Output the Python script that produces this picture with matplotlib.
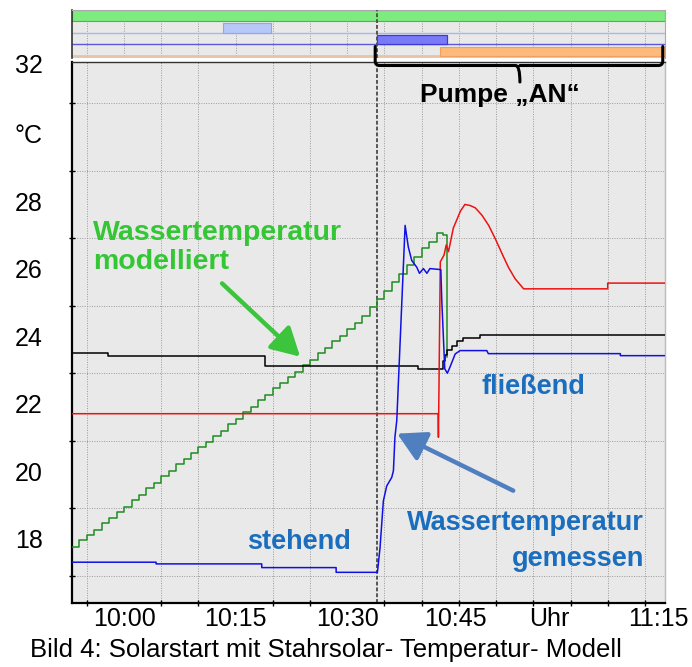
import matplotlib
matplotlib.use("Agg")
import matplotlib.pyplot as plt
from matplotlib.patches import Rectangle, FancyArrowPatch, PathPatch
from matplotlib.path import Path
from matplotlib.transforms import ScaledTranslation, blended_transform_factory

plt.rcParams['font.family'] = ['Liberation Sans', 'DejaVu Sans']

# ---- data (time in minutes after 10:00, temperature in °C) ----
x_range = (-7.0, 72.7)
y_range = (16.2, 32.23)

green_t = [-7, -6, -5, -4, -3, -2, -1, 0, 1, 2, 3, 4, 5, 6, 7, 8, 9, 10, 11, 12,
           13, 14, 15, 16, 17, 18, 19, 20, 21, 22, 23, 24, 25, 26, 27, 28, 29, 30,
           31, 32, 33, 34, 35, 36, 37, 38, 39, 40, 41, 42, 42.9, 43.45]
green_v = [17.85, 18.05, 18.20, 18.35, 18.55, 18.70, 18.90, 19.05, 19.25, 19.40,
           19.60, 19.75, 19.95, 20.10, 20.30, 20.45, 20.65, 20.80, 20.95, 21.15,
           21.30, 21.50, 21.65, 21.85, 22.00, 22.20, 22.35, 22.55, 22.70, 22.90,
           23.05, 23.25, 23.40, 23.60, 23.75, 23.95, 24.10, 24.30, 24.50, 24.70,
           24.95, 25.20, 25.45, 25.70, 25.95, 26.20, 26.45, 26.70, 26.90, 27.15,
           27.10, 23.47]

black_t = [-7, -2.2, 19.0, 39.5, 42.9, 43.1, 43.45, 44.05, 44.7, 45.6, 47.85, 72.7]
black_v = [23.6, 23.5, 23.22, 23.12, 23.35, 23.55, 23.7, 23.82, 23.95, 24.05, 24.12, 24.12]

red_t = [-7, 42.2, 42.25, 42.5, 43.0, 43.3, 43.6, 44.25, 45.2, 45.8, 46.5, 47.2,
         48.1, 49.0, 49.9, 50.8, 51.65, 52.55, 53.7, 65.0, 65.0, 72.7]
red_v = [21.8, 21.8, 21.1, 26.3, 26.5, 26.8, 26.6, 27.3, 27.8, 28.0, 27.97, 27.9,
         27.68, 27.38, 26.98, 26.54, 26.14, 25.8, 25.5, 25.5, 25.67, 25.67]

blue_t = [-7, 4.3, 4.3, 18.5, 18.5, 28.5, 28.5, 34.05, 34.4, 34.85, 35.3, 35.97,
          36.2, 36.4, 36.65, 37.77, 38.2, 38.66, 39.34, 39.7, 40.23, 40.7, 41.1,
          42.57, 42.7, 43.1, 43.45, 43.8, 44.5, 45.16, 48.75, 48.95, 66.7, 66.7, 72.7]
blue_v = [17.40, 17.40, 17.35, 17.35, 17.24, 17.24, 17.10, 17.10, 17.83, 19.22,
          19.66, 19.91, 20.11, 21.1, 21.6, 27.38, 26.74, 26.34, 26.14, 25.96, 26.1,
          25.96, 26.1, 26.07, 25.15, 23.13, 23.0, 23.18, 23.57, 23.67, 23.67, 23.58,
          23.58, 23.52, 23.52]

# state rows on top (start, end) in minutes
row_green = (-7.0, 72.7)
row_lightblue = (13.3, 19.76)
row_blue = (34.0, 43.4)
row_orange = (42.5, 72.7)
pump_on = (33.75, 72.4)
marker_time = 34.0

x_tick_pos = [0, 15, 30, 44.5, 57.1, 71.8]
x_tick_lab = ['10:00', '10:15', '10:30', '10:45', 'Uhr', '11:15']
y_tick_pos = [18, 20, 22, 24, 26, 28, 30, 32]
y_tick_lab = ['18', '20', '22', '24', '26', '28', '°C', '32']

W, H = 692, 667
fig = plt.figure(figsize=(W / 100, H / 100), dpi=100)
fig.patch.set_facecolor('white')

bg = '#e9e9e9'
gridc = '#9a9a9a'

ax = fig.add_axes([72 / W, 1 - 602.7 / H, (665 - 72) / W, (602.7 - 61.7) / H])
top = fig.add_axes([72 / W, 1 - 57.5 / H, (665 - 72) / W, (57.5 - 10) / H])

for a in (ax, top):
    a.set_facecolor(bg)
    a.set_xlim(*x_range)

ax.set_ylim(*y_range)

# grid
ax.set_xticks(list(range(-5, 71, 5)), minor=True)
ax.set_yticks(list(range(17, 33)), minor=True)
ax.grid(which='minor', color=gridc, ls=(0, (1, 1.5)), lw=0.7)
ax.set_xticks(x_tick_pos, x_tick_lab)
ax.set_yticks(y_tick_pos, y_tick_lab)
ax.tick_params(which='major', length=0, labelsize=18, colors='black')
ax.tick_params(axis='y', which='major', pad=21)
ax.tick_params(axis='x', which='major', pad=3)
ax.tick_params(which='minor', length=5, direction='inout', width=1.0, color='black')
for lab in ax.get_yticklabels():
    dy = 6 if lab.get_text() == '32' else 3
    lab.set_transform(lab.get_transform() + ScaledTranslation(0, dy / 100, fig.dpi_scale_trans))

for s in ('left', 'bottom'):
    ax.spines[s].set_linewidth(1.6)
    ax.spines[s].set_color('black')
ax.spines['top'].set_linewidth(1.0)
ax.spines['top'].set_color('#333333')
ax.spines['right'].set_color('#bbbbbb')
ax.spines['right'].set_linewidth(1.0)

# lines
ax.step(green_t, green_v, where='post', color='#1f8c1f', lw=1.1, zorder=3)
ax.step(black_t, black_v, where='post', color='black', lw=1.1, zorder=3)
ax.plot(red_t, red_v, color='#ee1111', lw=1.1, zorder=4)
ax.plot(blue_t, blue_v, color='#1010e6', lw=1.1, zorder=5)

ax.axvline(marker_time, color='#555555', ls=(0, (2, 1)), lw=1.4, zorder=2)

# top strip
top.set_ylim(4.05, 0)
top.set_xticks(list(range(-5, 71, 5)))
top.set_yticks([])
top.tick_params(length=0, labelbottom=False)
top.grid(axis='x', color=gridc, ls=(0, (1, 1.5)), lw=0.7)
top.spines['bottom'].set_visible(False)
top.spines['top'].set_color('#aaaaaa')
top.spines['right'].set_color('#aaaaaa')
top.spines['left'].set_color('#333333')
top.spines['left'].set_linewidth(1.2)

top.add_patch(Rectangle((row_green[0], 0), row_green[1] - row_green[0], 0.92,
                        facecolor='#7deb7d', edgecolor='#55b055', lw=0.8, zorder=2))
top.axhline(1.93, color='#a8b6f2', lw=1.0, zorder=2)
top.add_patch(Rectangle((row_lightblue[0], 1.10), row_lightblue[1] - row_lightblue[0], 0.83,
                        facecolor='#b6c7f8', edgecolor='#8ea6ef', lw=0.8, zorder=3))
top.axhline(2.93, color='#5a5ad6', lw=1.0, zorder=2)
top.add_patch(Rectangle((row_blue[0], 2.15), row_blue[1] - row_blue[0], 0.78,
                        facecolor='#7a7af8', edgecolor='#3c3cd2', lw=0.9, zorder=3))
top.axhline(3.96, color='#e8c4a6', lw=2.0, zorder=2)
top.add_patch(Rectangle((row_orange[0], 3.16), row_orange[1] - row_orange[0], 0.80,
                        facecolor='#fdba7a', edgecolor='#f0a060', lw=0.8, zorder=3))
top.axvline(marker_time, color='#555555', ls=(0, (2, 1)), lw=1.4, zorder=4)

# bracket "Pumpe AN"
bt = blended_transform_factory(ax.transData, fig.transFigure)
def fy(py):
    return 1 - py / H
xl, xr = pump_on
xc = 53.2
yt, yb, ytip = fy(46.5), fy(65.5), fy(82)
verts = [(xl, yt), (xl, fy(61)), (xl, yb), (xl + 0.6, yb),
         (xc - 0.6, yb), (xc, yb), (xc, ytip),
         (xc, yb), (xc + 0.6, yb),
         (xr - 0.6, yb), (xr, yb), (xr, fy(61)), (xr, yt)]
codes = [Path.MOVETO, Path.LINETO, Path.CURVE3, Path.CURVE3,
         Path.LINETO, Path.CURVE3, Path.CURVE3,
         Path.MOVETO, Path.LINETO,
         Path.LINETO, Path.CURVE3, Path.CURVE3, Path.LINETO]
bracket = PathPatch(Path(verts, codes), transform=bt, fill=False, lw=2.2,
                    edgecolor='black', clip_on=False, capstyle='round', joinstyle='round')
fig.add_artist(bracket)
fig.text(500 / W, fy(95), 'Pumpe \u201eAN\u201c', ha='center', va='center',
         fontsize=19, fontweight='bold', color='black')

# annotations
green_txt = '#35c635'
blue_txt = '#1a6ebd'
ax.text(-4.17, 26.10, 'Wassertemperatur\nmodelliert', color=green_txt, fontsize=20.5,
        fontweight='bold', ha='left', va='baseline', multialignment='left',
        linespacing=1.15, zorder=6)
ax.add_patch(FancyArrowPatch((13.17, 25.66), (23.66, 23.49), arrowstyle='-|>,head_length=0.9,head_width=0.5',
                             mutation_scale=19, color='#3cc43c', lw=3.2, zorder=6, shrinkA=0, shrinkB=0))
ax.text(47.98, 22.39, 'fließend', color=blue_txt, fontsize=19.5,
        fontweight='bold', ha='left', va='baseline', zorder=6)
ax.text(23.5, 18.0, 'stehend', color=blue_txt, fontsize=19.5,
        fontweight='bold', ha='center', va='center', zorder=6)
ax.text(69.9, 18.34, 'Wassertemperatur', color=blue_txt, fontsize=19.5,
        fontweight='bold', ha='right', va='baseline', zorder=6)
ax.text(69.9, 17.3, 'gemessen', color=blue_txt, fontsize=19.5,
        fontweight='bold', ha='right', va='baseline', zorder=6)
ax.add_patch(FancyArrowPatch((52.3, 19.52), (36.7, 21.21), arrowstyle='-|>,head_length=0.9,head_width=0.5',
                             mutation_scale=19, color='#4f7fbf', lw=3.2, zorder=6, shrinkA=0, shrinkB=0))

fig.text(30 / W, fy(650), 'Bild 4: Solarstart mit Stahrsolar- Temperatur- Modell',
         ha='left', va='center', fontsize=18.5, color='black')

fig.savefig('out.png', dpi=100, facecolor='white')
